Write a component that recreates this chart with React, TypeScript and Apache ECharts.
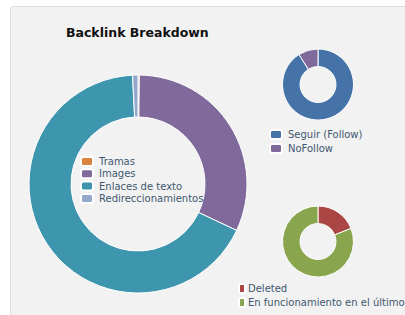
import React, { useEffect, useRef } from "react";
import * as echarts from "echarts";

const typeNames = ["Tramas", "Images", "Enlaces de texto", "Redireccionamientos"];
const typeValues = [0.2, 31.8, 67.2, 0.8];
const typeColors = ["#DB843D", "#80699B", "#3D96AE", "#92A8CD"];

const followNames = ["Seguir (Follow)", "NoFollow"];
const followValues = [91, 9];
const followColors = ["#4572A7", "#80699B"];

const statusNames = ["Deleted", "En funcionamiento en el último"];
const statusValues = [19, 81];
const statusColors = ["#AA4643", "#89A54E"];

const W = 405;
const H = 315;

export default function App() {
  const ref = useRef<HTMLDivElement>(null);
  useEffect(() => {
    document.body.style.margin = "0";
    const chart = echarts.init(ref.current!, null, { renderer: "svg" });
    const mk = (names: string[], values: number[], colors: string[]) =>
      names.map((n, i) => ({ name: n, value: values[i], itemStyle: { color: colors[i] } }));
    const pieBase = {
      type: "pie",
      startAngle: 90,
      clockwise: true,
      label: { show: false },
      labelLine: { show: false },
      emphasis: { disabled: true },
      silent: true,
      itemStyle: { borderColor: "#ffffff", borderWidth: 1 },
    };
    const legendBase = {
      orient: "vertical",
      itemWidth: 12,
      itemHeight: 9,
      itemGap: 2,
      icon: "roundRect",
      selectedMode: false,
      padding: 0,
    };
    const ts = (pad: number) => ({
      fontFamily: "DejaVu Sans",
      fontSize: 10,
      color: "#3E576F",
      padding: [0, 0, 0, pad],
    });
    chart.setOption({
      animation: false,
      backgroundColor: "#ffffff",
      graphic: [
        {
          type: "rect",
          z: -10,
          shape: { x: 10.5, y: 6.5, width: 420, height: 340, r: 3 },
          style: { fill: "#f2f2f2", stroke: "#dcdcdc", lineWidth: 1 },
        },
      ],
      title: {
        text: "Backlink Breakdown",
        left: 66,
        top: 26,
        padding: 0,
        textStyle: { fontFamily: "DejaVu Sans", fontWeight: "bold", fontSize: 12.5, color: "#111111" },
      },
      legend: [
        { ...legendBase, left: 80, top: 156, itemGap: 1.3, textStyle: ts(1), data: typeNames },
        { ...legendBase, left: 269, top: 129, itemGap: 3, textStyle: ts(1), data: followNames },
        { ...legendBase, left: 238, top: 283, itemWidth: 6, itemGap: 3, textStyle: ts(-2), data: statusNames },
      ],
      series: [
        { ...pieBase, name: "Tipo", center: [138, 184], radius: [67, 109], data: mk(typeNames, typeValues, typeColors) },
        { ...pieBase, name: "Follow", center: [318, 84.5], radius: [18, 35.5], data: mk(followNames, followValues, followColors) },
        { ...pieBase, name: "Estado", center: [318, 241.5], radius: [18, 35.5], data: mk(statusNames, statusValues, statusColors) },
      ],
    });
    return () => chart.dispose();
  }, []);
  return <div ref={ref} style={{ width: W, height: H }} />;
}
